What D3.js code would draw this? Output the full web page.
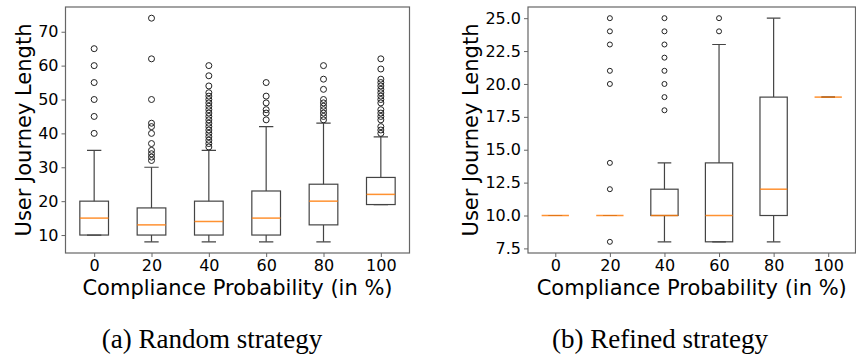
<!DOCTYPE html>
<html>
<head>
<meta charset="utf-8">
<script src="https://cdn.jsdelivr.net/npm/d3@7"></script>
<style>
  body { margin: 0; background: #fff; }
  svg text { font-family: "DejaVu Sans", sans-serif; fill: #000; }
  .caption { font-family: "Liberation Serif", "DejaVu Serif", serif !important; }
</style>
</head>
<body>
<svg id="chart" width="856" height="356"></svg>
<script>
const categories = [0, 20, 40, 60, 80, 100];

// random strategy: [whiskerLow, q1, median, q3, whiskerHigh]
const randomStats = [
  [10, 10, 15, 20, 35],
  [8, 10, 13, 18, 30],
  [8, 10, 14, 20, 35],
  [8, 10, 15, 23, 42],
  [8, 13, 20, 25, 43],
  [19, 19, 22, 27, 39]
];
const randomOutliers = [
  [40, 45, 50, 55, 60, 65],
  [32, 33, 34, 35, 37, 40, 42, 43, 50, 62, 74],
  [36, 37, 38, 39, 40, 41, 42, 43, 44, 45, 46, 47, 48, 49, 50, 51, 52, 54, 57, 60],
  [44, 46, 47, 49, 51, 55],
  [44, 45, 46, 47, 48, 49, 50, 53, 56, 60],
  [40, 41, 42, 44, 45, 46, 47, 49, 50, 51, 52, 53, 54, 55, 56, 59, 62]
];

// refined strategy
const refinedStats = [
  [10, 10, 10, 10, 10],
  [10, 10, 10, 10, 10],
  [8, 10, 10, 12, 14],
  [8, 8, 10, 14, 23],
  [8, 10, 12, 19, 25],
  [19, 19, 19, 19, 19]
];
const refinedOutliers = [
  [],
  [8, 12, 14, 20, 21, 23, 24, 25],
  [18, 19, 20, 21, 22, 23, 24, 25],
  [24, 25],
  [],
  []
];

const randomTicks = [10, 20, 30, 40, 50, 60, 70];
const refinedTicks = [7.5, 10, 12.5, 15, 17.5, 20, 22.5, 25];

const svg = d3.select("#chart");
const lineColor = "#444";

function drawPanel(opts) {
  const { left, right, top, bottom, stats, outliers, yDomain, yTicks, tickFmt, r, labelX } = opts;
  const g = svg.append("g");

  const x = d3.scaleLinear().domain([0.5, 6.5]).range([left, right]);
  const y = d3.scaleLinear().domain(yDomain).range([bottom, top]);
  const bw = x(1.25) - x(1);

  const clip = "clip" + Math.round(left);
  svg.append("clipPath").attr("id", clip)
    .append("rect").attr("x", left).attr("y", top).attr("width", right - left).attr("height", bottom - top);

  const plot = g.append("g").attr("clip-path", `url(#${clip})`);

  stats.forEach((s, i) => {
    const cx = x(i + 1);
    const [lo, q1, med, q3, hi] = s;
    const b = plot.append("g").attr("stroke", lineColor).attr("stroke-width", 1.2).attr("fill", "none");
    b.append("line").attr("x1", cx).attr("x2", cx).attr("y1", y(hi)).attr("y2", y(q3));
    b.append("line").attr("x1", cx).attr("x2", cx).attr("y1", y(q1)).attr("y2", y(lo));
    b.append("line").attr("x1", cx - bw / 2).attr("x2", cx + bw / 2).attr("y1", y(hi)).attr("y2", y(hi));
    b.append("line").attr("x1", cx - bw / 2).attr("x2", cx + bw / 2).attr("y1", y(lo)).attr("y2", y(lo));
    b.append("rect").attr("x", cx - bw).attr("width", 2 * bw)
      .attr("y", y(q3)).attr("height", y(q1) - y(q3));
    plot.append("line").attr("x1", cx - bw).attr("x2", cx + bw)
      .attr("y1", y(med)).attr("y2", y(med))
      .attr("stroke", "#ff7f0e").attr("stroke-width", 1.5).attr("opacity", 0.85);

    plot.selectAll(null).data(outliers[i]).join("circle")
      .attr("cx", cx).attr("cy", d => y(d)).attr("r", r)
      .attr("fill", "none").attr("stroke", "#222").attr("stroke-width", 1);
  });

  // frame
  g.append("rect").attr("x", left).attr("y", top).attr("width", right - left).attr("height", bottom - top)
    .attr("fill", "none").attr("stroke", "#666").attr("stroke-width", 1.2);

  const xAxis = g.append("g").attr("transform", `translate(0,${bottom})`)
    .call(d3.axisBottom(x).tickValues([1, 2, 3, 4, 5, 6]).tickFormat(d => categories[d - 1]).tickSize(4).tickPadding(3));
  xAxis.select(".domain").remove();
  xAxis.selectAll("line").attr("stroke", "#666");
  xAxis.selectAll("text").style("font-size", "16px");

  const yAxis = g.append("g").attr("transform", `translate(${left},0)`)
    .call(d3.axisLeft(y).tickValues(yTicks).tickFormat(tickFmt).tickSize(4).tickPadding(3));
  yAxis.select(".domain").remove();
  yAxis.selectAll("line").attr("stroke", "#666");
  yAxis.selectAll("text").style("font-size", "16px");

  g.append("text").attr("x", (left + right) / 2).attr("y", 295)
    .attr("text-anchor", "middle").style("font-size", "21px")
    .text("Compliance Probability (in %)");

  g.append("text").attr("transform", `translate(${labelX},${(top + bottom) / 2}) rotate(-90)`)
    .attr("text-anchor", "middle").attr("dy", "0.35em").style("font-size", "21px")
    .text("User Journey Length");
}

drawPanel({
  left: 65.5, right: 409.5, top: 7, bottom: 253,
  stats: randomStats, outliers: randomOutliers,
  yDomain: [4.7, 77.3], yTicks: randomTicks, tickFmt: d3.format("d"),
  r: 3, labelX: 24
});

drawPanel({
  left: 528, right: 855.5, top: 7, bottom: 253,
  stats: refinedStats, outliers: refinedOutliers,
  yDomain: [7.15, 25.85], yTicks: refinedTicks, tickFmt: d3.format(".1f"),
  r: 2.5, labelX: 471
});

svg.append("text").attr("class", "caption").attr("x", 212).attr("y", 348)
  .attr("text-anchor", "middle").style("font-size", "27px").text("(a) Random strategy");
svg.append("text").attr("class", "caption").attr("x", 660).attr("y", 348)
  .attr("text-anchor", "middle").style("font-size", "27px").text("(b) Refined strategy");
</script>
</body>
</html>
